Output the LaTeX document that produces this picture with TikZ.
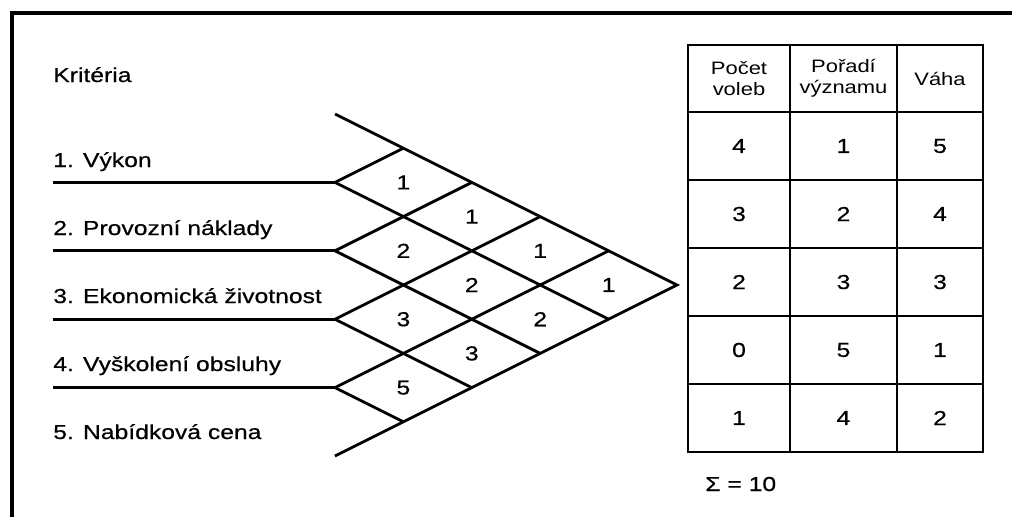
\documentclass[tikz,border=0pt]{standalone}
\usepackage{fontspec}
\usepackage{tikz}
\usetikzlibrary{positioning}
\newfontfamily\arialw{Liberation Sans}[FakeStretch=1.22, FakeBold=0.5]
\newfontfamily\arialh{Liberation Sans}[FakeStretch=1.22]
\newcommand{\critfont}{\fontsize{14.4}{17}\arialw}
\newcommand{\headfont}{\fontsize{12.8}{15}\arialh}
\tikzstyle{frame} = [line width=2.2pt]
\tikzstyle{grid} = [line width=2pt]
\tikzstyle{crit} = [anchor=base west, 
inner sep=0pt, 
font=\critfont]
\tikzstyle{cell} = [inner sep=0pt, 
font=\critfont]
\tikzstyle{tab} = [rectangle, 
draw=black, 
line width=2.1pt, 
inner sep=0pt, 
outer sep=0pt, 
minimum height=1.7cm, 
text centered, 
font=\critfont]
\tikzstyle{head} = [tab, 
minimum height=1.675cm, 
align=center, 
font=\headfont]
\tikzstyle{colA} = [minimum width=2.55cm]
\tikzstyle{colB} = [minimum width=2.675cm]
\tikzstyle{colC} = [minimum width=2.15cm]

\begin{document}
\begin{tikzpicture}
\useasboundingbox (0,0) rectangle (25.3,-12.925);
\draw [frame] (25.3,-0.325) -- (0.3,-0.325) -- (0.3,-12.925);

% criteria on the left
\node (title) [crit] at (1.325,-2.05) {Kritéria};
\node (crit1) [crit, below=2.125cm of title.base west, anchor=base west] {1. Výkon};
\node (crit2) [crit, below=1.7cm of crit1.base west, anchor=base west] {2. Provozní náklady};
\node (crit3) [crit, below=1.7cm of crit2.base west, anchor=base west] {3. Ekonomická životnost};
\node (crit4) [crit, below=1.7cm of crit3.base west, anchor=base west] {4. Vyškolení obsluhy};
\node (crit5) [crit, below=1.7cm of crit4.base west, anchor=base west] {5. Nabídková cena};

% pairwise comparison grid
\begin{scope}[shift={(8.375,-7.125)}, scale=0.855]
\coordinate (v1) at (0,3);
\coordinate (v2) at (0,1);
\coordinate (v3) at (0,-1);
\coordinate (v4) at (0,-3);
\coordinate (tip) at (10,0);
\draw [grid] (0,5) -- (tip) -- (0,-5);
\draw [grid] (v1) -- (8,-1);
\draw [grid] (v2) -- (6,-2);
\draw [grid] (v3) -- (4,-3);
\draw [grid] (v4) -- (2,-4);
\draw [grid] (v4) -- (8,1);
\draw [grid] (v3) -- (6,2);
\draw [grid] (v2) -- (4,3);
\draw [grid] (v1) -- (2,4);
\node (p12) [cell] at (2,3) {1};
\node (p13) [cell] at (4,2) {1};
\node (p14) [cell] at (6,1) {1};
\node (p15) [cell] at (8,0) {1};
\node (p23) [cell] at (2,1) {2};
\node (p24) [cell] at (4,0) {2};
\node (p25) [cell] at (6,-1) {2};
\node (p34) [cell] at (2,-1) {3};
\node (p35) [cell] at (4,-2) {3};
\node (p45) [cell] at (2,-3) {5};
\end{scope}
\draw [grid] (v1) -- (v1 -| crit1.west);
\draw [grid] (v2) -- (v2 -| crit1.west);
\draw [grid] (v3) -- (v3 -| crit1.west);
\draw [grid] (v4) -- (v4 -| crit1.west);

% result table
\node (h1) [head, colA, anchor=north west] at (17.2,-1.125) {Počet\\voleb};
\node (h2) [head, colB, right=0pt of h1] {Pořadí\\významu};
\node (h3) [head, colC, right=0pt of h2] {Váha};
\node (a1) [tab, colA, below=0pt of h1] {4};
\node (a2) [tab, colB, below=0pt of h2] {1};
\node (a3) [tab, colC, below=0pt of h3] {5};
\node (b1) [tab, colA, below=0pt of a1] {3};
\node (b2) [tab, colB, below=0pt of a2] {2};
\node (b3) [tab, colC, below=0pt of a3] {4};
\node (c1) [tab, colA, below=0pt of b1] {2};
\node (c2) [tab, colB, below=0pt of b2] {3};
\node (c3) [tab, colC, below=0pt of b3] {3};
\node (d1) [tab, colA, below=0pt of c1] {0};
\node (d2) [tab, colB, below=0pt of c2] {5};
\node (d3) [tab, colC, below=0pt of c3] {1};
\node (e1) [tab, colA, below=0pt of d1] {1};
\node (e2) [tab, colB, below=0pt of d2] {4};
\node (e3) [tab, colC, below=0pt of d3] {2};
\node (sum) [crit, below=0.975cm of e1.south west, xshift=0.425cm, anchor=base west] {Σ = 10};

\end{tikzpicture}
\end{document}
